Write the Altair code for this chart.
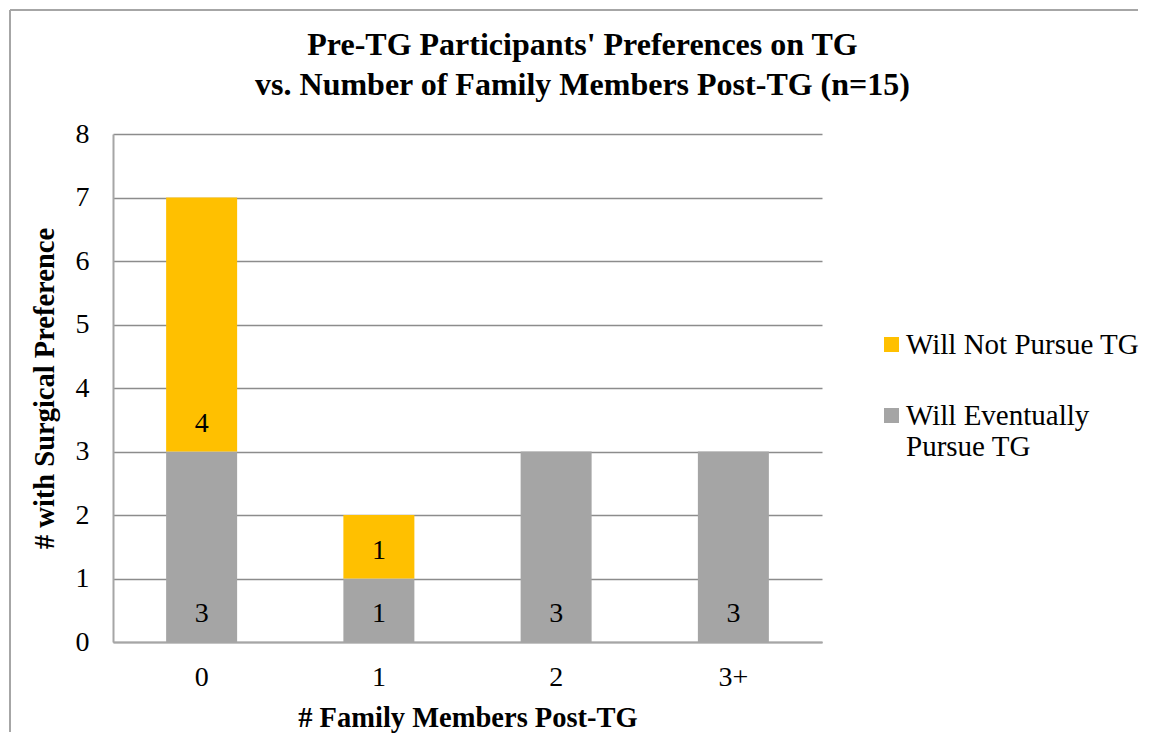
import altair as alt
import pandas as pd

categories = ["0", "1", "2", "3+"]
series = ["Will Not Pursue TG", "Will Eventually Pursue TG"]
colors = ["#FFC000", "#A5A5A5"]
will_not = [4, 1, 0, 0]
will_eventually = [3, 1, 3, 3]
y_ticks = [0, 1, 2, 3, 4, 5, 6, 7, 8]

rows = []
for i, c in enumerate(categories):
    rows.append({"cat": c, "series": series[1], "value": will_eventually[i], "order": 0})
    rows.append({"cat": c, "series": series[0], "value": will_not[i], "order": 1})
df = pd.DataFrame(rows)

FONT = "Liberation Serif"

base = alt.Chart(df)

x_axis = alt.Axis(title="# Family Members Post-TG", labelAngle=0)
y_axis = alt.Axis(title="# with Surgical Preference", values=y_ticks)
x_scale = alt.Scale(paddingInner=0.6, paddingOuter=0.3)
y_scale = alt.Scale(domain=[0, 8], nice=False)

bars = base.mark_bar(size=71).encode(
    x=alt.X("cat:N", sort=categories, scale=x_scale, axis=x_axis),
    y=alt.Y("value:Q", stack="zero", scale=y_scale, axis=y_axis),
    color=alt.Color("series:N", scale=alt.Scale(domain=series, range=colors),
                    legend=alt.Legend(title=None, orient="none", legendX=764, legendY=196,
                                      symbolType="square", symbolSize=225, symbolStrokeWidth=0,
                                      labelFontSize=29, labelFont=FONT, labelColor="black",
                                      rowPadding=41, labelOffset=0, labelLimit=400,
                                      labelExpr="datum.label == 'Will Eventually Pursue TG' ? ['Will Eventually', 'Pursue TG'] : datum.label")),
    order=alt.Order("order:Q"),
)

labels = base.transform_filter("datum.value > 0").transform_stack(
    stack="value", groupby=["cat"], as_=["start", "end"], sort=[alt.SortField("order")]
).mark_text(dy=-28, fontSize=28, font=FONT, color="black", baseline="middle").encode(
    x=alt.X("cat:N", sort=categories, scale=x_scale, axis=x_axis),
    y=alt.Y("start:Q", scale=y_scale, axis=y_axis),
    text=alt.Text("value:Q"),
)

frame = alt.Chart(pd.DataFrame({"a": [0]}))
border_top = frame.mark_rule(stroke="#a6a6a6", strokeWidth=2, clip=False).encode(
    x=alt.value(-103), x2=alt.value(1025), y=alt.value(-124))
border_left = frame.mark_rule(stroke="#a6a6a6", strokeWidth=2, clip=False).encode(
    x=alt.value(-103), y=alt.value(-124), y2=alt.value(598))

chart = alt.layer(border_top, border_left, bars, labels).properties(
    width=709, height=508,
    autosize=alt.AutoSizeParams(type="none"),
    padding={"left": 105, "top": 126, "right": 322, "bottom": 92},
    title=alt.TitleParams(
        text=["Pre-TG Participants' Preferences on TG", "vs. Number of Family Members Post-TG (n=15)"],
        font=FONT, fontSize=32, fontWeight="bold", color="black",
        anchor="middle", dx=115, offset=-93, lineHeight=40,
    ),
).configure_view(stroke=None).configure_axis(
    labelFont=FONT, labelFontSize=28, labelColor="black",
    titleFont=FONT, titleFontSize=28.5, titleFontWeight="bold", titleColor="black",
    ticks=False, grid=False, domainColor="#a6a6a6", domainWidth=2,
).configure_axisY(
    grid=True, gridColor="#8c8c8c", gridWidth=1.5, labelPadding=24, titlePadding=16,
).configure_axisX(
    labelPadding=21, titlePadding=12,
)

chart.save("out.html", embed_options={"renderer": "svg", "actions": False})
